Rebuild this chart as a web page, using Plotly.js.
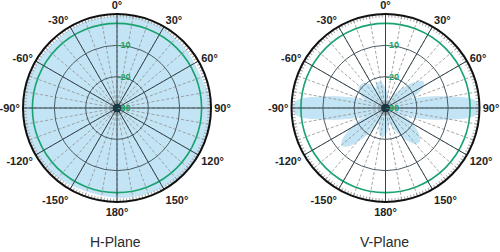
<!DOCTYPE html>
<html><head><meta charset="utf-8">
<script src="https://cdn.plot.ly/plotly-3.0.1.min.js"></script>
<style>html,body{margin:0;padding:0;background:#fff}#chart{width:500px;height:252px}</style>
</head><body><div id="chart"></div>
<script>
// ---- data ----
const hTheta = [0,15,30,40,50,60,70,80,90,105,120,135,150,165,180,195,210,225,240,255,270,285,300,315,330,345];
const hR     = [-0.5,-0.6,-0.7,-1.1,-1.2,-1.6,-1.5,-0.8,-0.3,-0.2,-0.2,-0.4,-0.8,-1.2,-1.5,-1.8,-1.5,-0.7,-0.3,-0.2,-0.2,-0.4,-0.8,-1.1,-0.9,-0.6];

const vTheta = [0,7.3,15,22,28.2,39.4,46.3,51.5,56,60.5,65.7,69,73.4,77,81.1,83.7,86.5,90,93.5,96.3,98.9,103,106.6,111.9,115.5,124,130.5,136,141.5,148,156.5,168,175.5,181.1,186,190.9,196.5,203,213.1,219.7,224.7,229,233.3,238.3,244.9,248.1,253.4,257,261.1,263.7,266.5,270,273.5,276.3,278.9,283,286.6,291.9,295.3,304,312,320,328.7,334,338.9,345,351.1,358.1];
const vR     = [-24,-25.5,-27.5,-27.5,-26.1,-22.5,-18.9,-16.3,-15.3,-16.3,-18.9,-22.5,-18.8,-14,-7.7,-2.9,-0.6,0,-0.6,-2.9,-7.7,-14,-18.8,-23.5,-22.1,-18.4,-15.7,-14.7,-15.7,-18.4,-22.1,-25.2,-22.9,-21.2,-20.6,-21.2,-22.9,-25,-20.6,-16.2,-12.9,-11.7,-12.9,-16.2,-20.6,-23,-18.8,-14,-7.9,-3.2,-1,-0.5,-1,-3.2,-7.9,-14,-18.8,-23.5,-21.7,-19.8,-19.2,-19.8,-21.7,-23.4,-21.9,-21.4,-21.9,-23.4];

const angleTicks  = [0,30,60,90,120,150,180,210,240,270,300,330];
const angleLabels = ['0°','30°','60°','90°','120°','150°','180°','-150°','-120°','-90°','-60°','-30°'];
const ringTicks   = [-30,-20,-10];
const ringLabels  = ['-30','-20','-10'];
const greenLevel  = [-3];
const rRange      = [-30, 0];
const planeTitles = ['H-Plane','V-Plane'];

// ---- styles ----
const FONT = 'Liberation Sans, Arial, sans-serif';
const FILL = '#c3e4f4';
const domH = {x:[0.046,0.422], y:[0.1984,0.9444]};
const domV = {x:[0.583,0.959], y:[0.1984,0.9444]};

function baseAng(extra){
  return Object.assign({rotation:90, direction:'clockwise', showline:false, showgrid:false,
    showticklabels:false, ticks:'', tickvals:angleTicks}, extra);
}
function baseRad(extra){
  return Object.assign({range:rRange, autorange:false, showline:false, showticklabels:false,
    ticks:'', showgrid:false, angle:90}, extra);
}
function dataPolar(dom){
  return {domain:dom, bgcolor:'#ffffff', angularaxis:baseAng({}), radialaxis:baseRad({visible:false})};
}
function tickPolar(dom){ // fine degree band + -3 dB ring
  return {domain:dom, bgcolor:'rgba(0,0,0,0)',
    angularaxis:baseAng({tickvals:null, tickmode:'linear', tick0:0, dtick:2, ticks:'inside', ticklen:3, tickwidth:1, tickcolor:'#a9a9a9'}),
    radialaxis:baseRad({tickvals:greenLevel, showgrid:true, gridcolor:'#1aa36e', gridwidth:1.6})};
}
function dashPolar(dom){
  return {domain:dom, bgcolor:'rgba(0,0,0,0)',
    angularaxis:baseAng({tickvals:null, tickmode:'linear', tick0:0, dtick:10, showgrid:true, gridcolor:'#8e8e8e', gridwidth:0.8, griddash:'3px,2px'}),
    radialaxis:baseRad({})};
}
function solidPolar(dom){
  return {domain:dom, bgcolor:'rgba(0,0,0,0)',
    angularaxis:baseAng({showgrid:true, gridcolor:'#33434c', gridwidth:1, showline:true, linecolor:'#111', linewidth:2,
      showticklabels:true, ticktext:angleLabels, tickfont:{family:FONT, size:11, color:'#222', weight:'bold'}}),
    radialaxis:baseRad({tickvals:ringTicks, ticktext:ringLabels, showticklabels:true, showgrid:true,
      gridcolor:'#4d5c64', gridwidth:1, side:'clockwise', tickangle:90,
      tickfont:{family:FONT, size:9, color:'#17a468', weight:'bold'}})};
}

const traces = [
  {type:'scatterpolar', subplot:'polar', r:hR, theta:hTheta, mode:'lines', fill:'toself', fillcolor:FILL, line:{color:FILL, width:1, shape:'spline'}},
  {type:'scatterpolar', subplot:'polar2', r:vR, theta:vTheta, mode:'lines', fill:'toself', fillcolor:FILL, line:{color:FILL, width:1, shape:'spline', smoothing:0.8}},
  {type:'scatterpolar', subplot:'polar3', r:[], theta:[]},
  {type:'scatterpolar', subplot:'polar4', r:[], theta:[]},
  {type:'scatterpolar', subplot:'polar5', r:[], theta:[]},
  {type:'scatterpolar', subplot:'polar6', r:[], theta:[]},
  {type:'scatterpolar', subplot:'polar7', r:[rRange[0]], theta:[0], mode:'markers', marker:{size:9, color:'#1d3644'}},
  {type:'scatterpolar', subplot:'polar8', r:[rRange[0]], theta:[0], mode:'markers', marker:{size:9, color:'#1d3644'}}
];

const layout = {
  width:500, height:252, margin:{l:0,r:0,t:0,b:0}, showlegend:false, hovermode:false,
  paper_bgcolor:'#ffffff',
  polar:dataPolar(domH), polar2:dataPolar(domV),
  polar3:tickPolar(domH), polar4:tickPolar(domV),
  polar5:dashPolar(domH), polar6:dashPolar(domV),
  polar7:solidPolar(domH), polar8:solidPolar(domV),
  annotations:[
    {text:planeTitles[0], xref:'paper', yref:'paper', x:0.23, y:0.04, xanchor:'center', yanchor:'middle', showarrow:false, font:{family:FONT, size:14, color:'#2a2a2a'}},
    {text:planeTitles[1], xref:'paper', yref:'paper', x:0.768, y:0.04, xanchor:'center', yanchor:'middle', showarrow:false, font:{family:FONT, size:14, color:'#2a2a2a'}}
  ]
};
Plotly.newPlot('chart', traces, layout, {staticPlot:true, displayModeBar:false});
</script></body></html>
